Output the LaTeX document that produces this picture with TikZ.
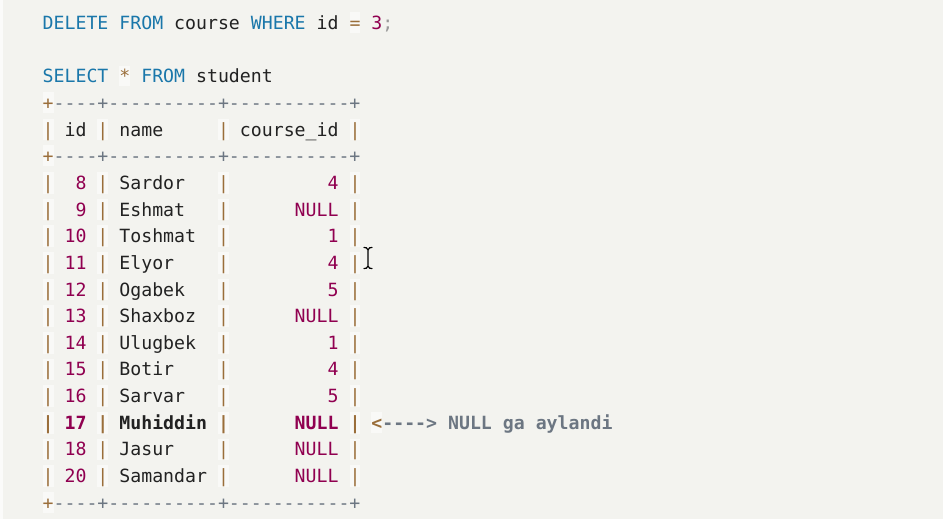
\documentclass[tikz,border=0pt]{standalone}
\usepackage{fontspec}
\setmonofont{DejaVu Sans Mono}
\usepackage{xcolor}
\definecolor{bgc}{HTML}{F3F3EF}
\definecolor{opbg}{HTML}{F9F9F7}
\definecolor{kw}{HTML}{1A77AA}
\definecolor{num}{HTML}{900050}
\definecolor{op}{HTML}{9A6E3A}
\definecolor{pct}{HTML}{999999}
\definecolor{cmt}{HTML}{6C7682}
\definecolor{txt}{HTML}{222222}
\newcommand\codefont{\ttfamily\fontsize{18.2}{22}\selectfont}
\newlength\cw
\newcommand\kwd[1]{\textcolor{kw}{#1}}
\newcommand\numb[1]{\textcolor{num}{#1}}
\newcommand\pct[1]{\textcolor{pct}{#1}}
\newcommand\cmt[1]{\textcolor{cmt}{#1}}
\newcommand\opr[1]{{\setlength\fboxsep{0pt}\colorbox{opbg}{\rule[-0.2em]{0pt}{1.15em}\textcolor{op}{#1}}}}
\newcommand\tabrow[3]{\settowidth{\cw}{0}\opr{|}\makebox[4\cw][r]{\numb{#1}~}\opr{|}\makebox[10\cw][l]{~#2}\opr{|}\makebox[11\cw][r]{\numb{#3}~}\opr{|}}
\newcommand\sepline{\opr{+}\cmt{----+----------+-----------+}}
\tikzset{codeline/.style={anchor=base west, inner sep=0pt, font=\codefont, text=txt}}
\begin{document}
\begin{tikzpicture}[x=1pt,y=-1pt]
\useasboundingbox (0,0) rectangle (943,519);
\fill[bgc] (0,0) rectangle (943,519);
\fill[white!70!bgc] (0,0) rectangle (3,519);
\def\bx{42.5}
\def\pitch{26.65}
\def\yo{29.5}
\node[codeline] (l0) at (\bx,{\yo+0*\pitch}) {\kwd{DELETE}~\kwd{FROM}~course~\kwd{WHERE}~id~\opr{=}~\numb{3}\pct{;}};
\node[codeline] (l2) at (\bx,{\yo+2*\pitch}) {\kwd{SELECT}~\opr{*}~\kwd{FROM}~student};
\node[codeline] (l3) at (\bx,{\yo+3*\pitch}) {\sepline};
\node[codeline] (l4) at (\bx,{\yo+4*\pitch}) {\opr{|}~id~\opr{|}~name~~~~~\opr{|}~course\_id~\opr{|}};
\node[codeline] (l5) at (\bx,{\yo+5*\pitch}) {\sepline};
\node[codeline] (l6) at (\bx,{\yo+6*\pitch}) {\tabrow{8}{Sardor}{4}};
\node[codeline] (l7) at (\bx,{\yo+7*\pitch}) {\tabrow{9}{Eshmat}{NULL}};
\node[codeline] (l8) at (\bx,{\yo+8*\pitch}) {\tabrow{10}{Toshmat}{1}};
\node[codeline] (l9) at (\bx,{\yo+9*\pitch}) {\tabrow{11}{Elyor}{4}};
\node[codeline] (l10) at (\bx,{\yo+10*\pitch}) {\tabrow{12}{Ogabek}{5}};
\node[codeline] (l11) at (\bx,{\yo+11*\pitch}) {\tabrow{13}{Shaxboz}{NULL}};
\node[codeline] (l12) at (\bx,{\yo+12*\pitch}) {\tabrow{14}{Ulugbek}{1}};
\node[codeline] (l13) at (\bx,{\yo+13*\pitch}) {\tabrow{15}{Botir}{4}};
\node[codeline] (l14) at (\bx,{\yo+14*\pitch}) {\tabrow{16}{Sarvar}{5}};
\node[codeline] (l15) at (\bx,{\yo+15*\pitch}) {\bfseries\tabrow{17}{Muhiddin}{NULL}~\opr{<}\cmt{---->~NULL~ga~aylandi}};
\node[codeline] (l16) at (\bx,{\yo+16*\pitch}) {\tabrow{18}{Jasur}{NULL}};
\node[codeline] (l17) at (\bx,{\yo+17*\pitch}) {\tabrow{20}{Samandar}{NULL}};
\node[codeline] (l18) at (\bx,{\yo+18*\pitch}) {\sepline};
% mouse cursor (I-beam)
\coordinate (ct) at (368,250);
\coordinate (cb) at (368,266);
\draw[black, line width=1.2pt, line cap=round]
  (364,247.5) .. controls (366.5,247.5) .. (ct) .. controls (369.5,247.5) .. (372,247.5)
  (ct) -- (cb)
  (364,268.5) .. controls (366.5,268.5) .. (cb) .. controls (369.5,268.5) .. (372,268.5);
\end{tikzpicture}
\end{document}
